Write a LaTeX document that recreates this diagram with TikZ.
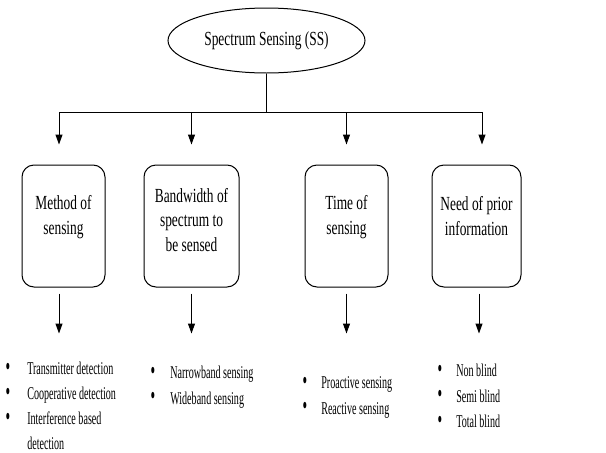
\documentclass[tikz,border=0pt]{standalone}
\usepackage{fontspec}
\setmainfont{Liberation Serif}[FakeStretch=0.67]
\newfontfamily\itemfont{Liberation Serif}[FakeStretch=0.56]
\usepackage{tikz}
\usetikzlibrary{shapes.geometric,arrows.meta}
\newcommand{\itembul}{\raisebox{-0.5pt}{\scalebox{1.3}[1.5]{\textbullet}}}

\begin{document}
\begin{tikzpicture}[x=1pt,y=-1pt]
        \tikzstyle{every node}+=[inner sep=0pt]
        \tikzstyle{root}=[draw, ellipse, line width=1pt, minimum width=197pt, minimum height=65pt, font=\fontsize{20}{24}\selectfont]
        \tikzstyle{topic}=[draw, rounded corners=12pt, line width=1pt, minimum height=122pt]
        \tikzstyle{topictext}=[align=center, font=\fontsize{20}{24.5}\selectfont]
        \tikzstyle{items}=[anchor=north west, font=\itemfont\fontsize{18}{25.5}\selectfont]
        \tikzstyle{arr}=[line width=1pt, -{Triangle[width=7pt,length=10pt]}]
        \useasboundingbox (0,0) rectangle (606,453);
        % root and the four kinds
        \node [root] (ss) at (266.5,40.5) {Spectrum Sensing (SS)};
        \coordinate (bus) at (0,112);
        \node [topic, minimum width=83pt] (method) at (63.5,226) {};
        \node [topic, minimum width=95pt] (band) at (191.5,226) {};
        \node [topic, minimum width=83pt] (time) at (346.5,226) {};
        \node [topic, minimum width=89pt] (prior) at (476.5,226) {};
        \node [topictext] (method text) at (63.5,217) {Method of\\sensing};
        \node [topictext] (band text) at (191.5,220) {Bandwidth of\\spectrum to\\be sensed};
        \node [topictext] (time text) at (346.5,217) {Time of\\sensing};
        \node [topictext] (prior text) at (476.5,216) {Need of prior\\information};
        % connectors
        \draw [line width=1pt] (ss.south) -- (ss.south |- bus);
        \draw [line width=1pt] ([xshift=-4.5pt]method.north |- bus) -- ([xshift=5.5pt]prior.north |- bus);
        \foreach \n/\a/\b in {method/-4.5/-4.5, band/0/0, time/0/0, prior/5.5/2.5}{
          \draw [arr] ([xshift=\a pt]\n.north |- bus) -- ([xshift=\a pt,yshift=20pt]\n.north);
          \draw [arr] ([xshift=\b pt,yshift=-6pt]\n.south) -- ([xshift=\b pt,yshift=-46pt]\n.south);
        }
        % bullet lists
        \node [items, font=\itemfont\fontsize{18}{25}\selectfont] (method list) at (5.5,357) {\begin{tabular}{@{}l@{\hspace{17pt}}l@{}}
          \itembul & Transmitter detection\\
          \itembul & Cooperative detection\\
          \itembul & Interference based\\
                   & detection
        \end{tabular}};
        \node [items] (band list) at (150.5,360.5) {\begin{tabular}{@{}l@{\hspace{15pt}}l@{}}
          \itembul & Narrowband sensing\\
          \itembul & Wideband sensing
        \end{tabular}};
        \node [items] (time list) at (302.5,370.5) {\begin{tabular}{@{}l@{\hspace{14pt}}l@{}}
          \itembul & Proactive sensing\\
          \itembul & Reactive sensing
        \end{tabular}};
        \node [items] (prior list) at (437.5,358.5) {\begin{tabular}{@{}l@{\hspace{14pt}}l@{}}
          \itembul & Non blind\\
          \itembul & Semi blind\\
          \itembul & Total blind
        \end{tabular}};
\end{tikzpicture}
\end{document}
